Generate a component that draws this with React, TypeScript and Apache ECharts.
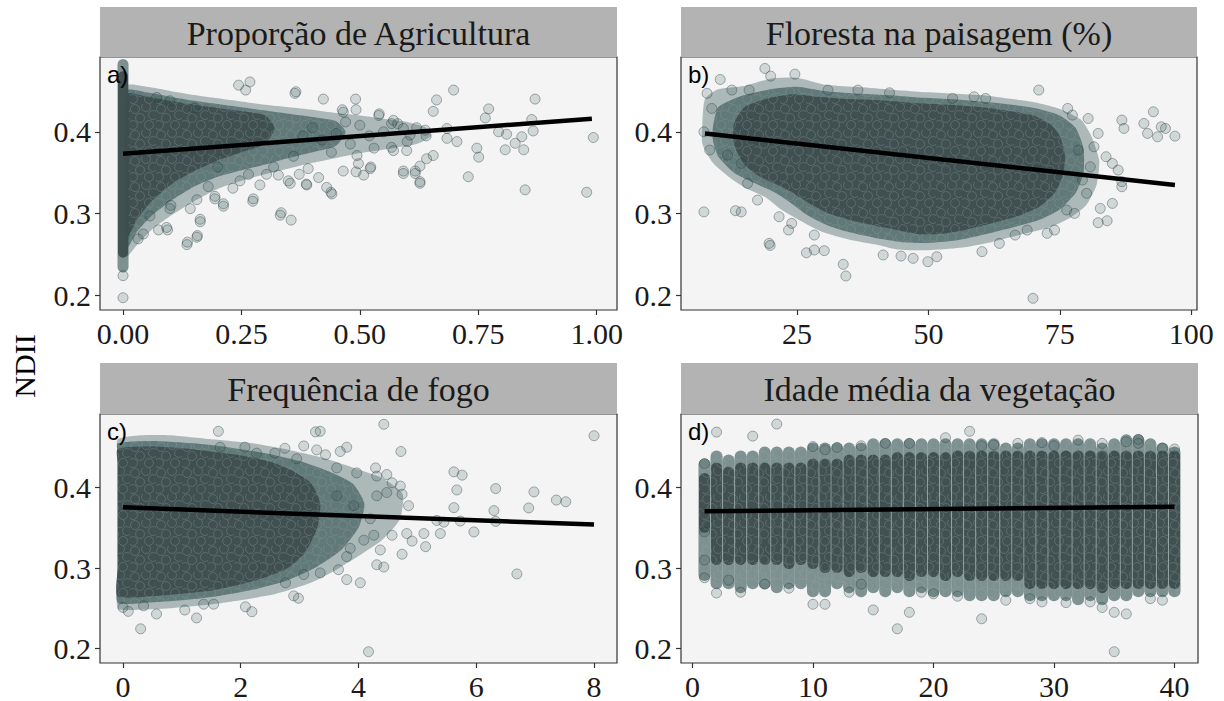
import React, { useEffect, useRef } from "react";
import * as echarts from "echarts";

// ---------- text ----------
const panelTitles = ["Proporção de Agricultura", "Floresta na paisagem (%)", "Frequência de fogo", "Idade média da vegetação"];
const panelTags = ["a)", "b)", "c)", "d)"];
const yAxisTitle = "NDII";

// ---------- scales ----------
const yTicks = [0.2, 0.3, 0.4];
const yRange = [0.182, 0.4915];
const xTicksA = [0, 0.25, 0.5, 0.75, 1];
const xTicksB = [25, 50, 75, 100];
const xTicksC = [0, 2, 4, 6, 8];
const xTicksD = [0, 10, 20, 30, 40];
const xRangeA = [-0.0486, 1.043];
const xRangeB = [2.94, 101.1];
const xRangeC = [-0.39, 8.39];
const xRangeD = [-0.95, 41.95];

// ---------- fitted lines ----------
const lineA = [[0, 0.373], [0.99, 0.416]];
const lineB = [[7.5, 0.398], [96.9, 0.335]];
const lineC = [[0, 0.3755], [8, 0.354]];
const lineD = [[1, 0.3705], [40, 0.3763]];

// ---------- panel a ----------
const aColX = [0];
const aColLoDark = [0.252];
const aColHiDark = [0.468];
const aColLoLight = [0.234];
const aColHiLight = [0.483];
const aLight = [[0.008, 0.456], [0.05, 0.455], [0.1, 0.45], [0.15, 0.445], [0.2, 0.441], [0.25, 0.437], [0.3, 0.433], [0.35, 0.43], [0.4, 0.427], [0.45, 0.423], [0.5, 0.42], [0.55, 0.416], [0.6, 0.412], [0.64, 0.405], [0.65, 0.395], [0.62, 0.385], [0.57, 0.38], [0.5, 0.374], [0.45, 0.368], [0.4, 0.362], [0.35, 0.355], [0.3, 0.348], [0.25, 0.34], [0.2, 0.33], [0.15, 0.315], [0.1, 0.297], [0.06, 0.28], [0.03, 0.262], [0.008, 0.248]];
const aMid = [[0.008, 0.45], [0.05, 0.448], [0.1, 0.443], [0.15, 0.438], [0.2, 0.434], [0.25, 0.43], [0.3, 0.426], [0.35, 0.422], [0.4, 0.418], [0.45, 0.413], [0.47, 0.4], [0.45, 0.383], [0.4, 0.375], [0.35, 0.368], [0.3, 0.36], [0.25, 0.353], [0.2, 0.345], [0.15, 0.333], [0.1, 0.315], [0.06, 0.297], [0.03, 0.278], [0.008, 0.258]];
const aDark = [[0.008, 0.446], [0.05, 0.443], [0.1, 0.438], [0.15, 0.433], [0.2, 0.429], [0.25, 0.425], [0.3, 0.42], [0.32, 0.405], [0.3, 0.385], [0.25, 0.375], [0.2, 0.365], [0.15, 0.352], [0.1, 0.335], [0.06, 0.315], [0.03, 0.293], [0.008, 0.27]];
const aPoints = [
  [0, 0.224], [0, 0.197],
  [0.244, 0.457], [0.268, 0.461], [0.259, 0.451], [0.365, 0.449], [0.423, 0.44], [0.491, 0.44], [0.492, 0.427], [0.463, 0.427], [0.541, 0.422], [0.571, 0.414], [0.071, 0.442], [0.099, 0.438], [0.151, 0.429],
  [0.101, 0.31], [0.057, 0.297], [0.075, 0.28], [0.092, 0.283], [0.043, 0.275], [0.032, 0.269], [0.136, 0.265], [0.157, 0.273], [0.163, 0.293], [0.142, 0.306], [0.156, 0.317], [0.194, 0.321], [0.212, 0.312], [0.18, 0.333], [0.232, 0.331], [0.275, 0.318], [0.289, 0.335], [0.334, 0.301], [0.355, 0.292], [0.328, 0.347], [0.349, 0.34], [0.372, 0.348], [0.387, 0.336], [0.413, 0.344], [0.43, 0.332], [0.439, 0.326], [0.391, 0.355], [0.465, 0.352], [0.492, 0.351], [0.523, 0.357], [0.494, 0.371], [0.592, 0.352], [0.617, 0.352], [0.627, 0.339], [0.627, 0.358], [0.567, 0.381], [0.599, 0.377], [0.2, 0.357], [0.247, 0.34], [0.265, 0.348], [0.303, 0.348], [0.318, 0.357],
  [0.698, 0.451], [0.662, 0.439], [0.655, 0.425], [0.772, 0.428], [0.765, 0.417], [0.87, 0.44], [0.863, 0.415], [0.866, 0.401], [0.793, 0.4], [0.81, 0.397], [0.828, 0.386], [0.842, 0.394], [0.807, 0.378], [0.846, 0.378], [0.747, 0.38], [0.751, 0.369], [0.729, 0.345], [0.849, 0.329], [0.979, 0.326], [0.993, 0.393], [0.684, 0.404], [0.684, 0.392], [0.705, 0.388], [0.655, 0.371], [0.627, 0.337], [0.617, 0.349], [0.592, 0.349], [0.641, 0.367], [0.571, 0.377], [0.567, 0.41], [0.592, 0.404], [0.638, 0.402], [0.606, 0.396], [0.54, 0.42], [0.363, 0.447], [0.465, 0.424], [0.522, 0.355], [0.497, 0.361], [0.508, 0.347], [0.441, 0.324], [0.388, 0.335], [0.353, 0.337], [0.332, 0.298], [0.274, 0.315], [0.212, 0.309], [0.194, 0.318], [0.156, 0.271], [0.135, 0.262], [0.163, 0.29], [0.099, 0.306], [0.094, 0.28],
  [0.4, 0.405], [0.42, 0.39], [0.45, 0.398], [0.48, 0.385], [0.5, 0.408], [0.52, 0.395], [0.55, 0.4], [0.58, 0.41], [0.6, 0.388], [0.62, 0.405], [0.64, 0.395], [0.47, 0.412], [0.53, 0.38], [0.44, 0.375], [0.36, 0.37], [0.38, 0.395],
];

// ---------- panel b ----------
const bLight = [[7, 0.41], [7.5, 0.44], [10, 0.452], [15, 0.456], [20, 0.465], [25, 0.466], [30, 0.458], [36, 0.455], [42, 0.452], [48, 0.449], [54, 0.447], [60, 0.445], [66, 0.44], [71, 0.435], [75, 0.428], [79, 0.415], [81, 0.395], [82.5, 0.365], [82, 0.335], [80, 0.31], [77, 0.295], [73, 0.283], [68, 0.275], [62, 0.265], [56, 0.258], [50, 0.255], [44, 0.256], [40, 0.262], [35, 0.268], [30, 0.277], [26, 0.29], [22, 0.305], [19, 0.32], [15, 0.332], [12, 0.345], [9, 0.362], [7, 0.385]];
const bMid = [[9, 0.405], [10, 0.43], [14, 0.443], [20, 0.452], [25, 0.455], [30, 0.45], [36, 0.447], [42, 0.445], [48, 0.442], [54, 0.44], [60, 0.437], [66, 0.433], [71, 0.428], [75, 0.42], [78, 0.405], [79.5, 0.38], [79.5, 0.35], [78, 0.325], [75, 0.305], [71, 0.292], [66, 0.283], [61, 0.275], [56, 0.268], [50, 0.264], [45, 0.265], [40, 0.27], [35, 0.277], [31, 0.285], [27, 0.298], [24, 0.312], [21, 0.325], [17, 0.337], [13, 0.35], [10, 0.37], [9, 0.39]];
const bDark = [[13, 0.41], [15, 0.43], [19, 0.44], [24, 0.446], [29, 0.443], [35, 0.44], [42, 0.438], [48, 0.435], [54, 0.433], [60, 0.43], [66, 0.425], [70, 0.42], [73, 0.41], [75, 0.395], [76, 0.37], [75.5, 0.345], [74, 0.325], [71, 0.308], [67, 0.297], [62, 0.288], [57, 0.28], [52, 0.275], [48, 0.275], [44, 0.28], [40, 0.285], [35, 0.292], [31, 0.3], [28, 0.31], [25, 0.322], [22, 0.333], [18, 0.345], [15, 0.36], [13, 0.385]];
const bPoints = [
  [7.3, 0.302], [13.3, 0.3035], [14.4, 0.302], [19.7, 0.2635], [19.9, 0.261], [26.8, 0.252], [28.3, 0.2554], [30.2, 0.2546], [33.8, 0.2379], [34.3, 0.2236], [41.4, 0.2493], [44.8, 0.248], [47.1, 0.2452], [49.9, 0.2411], [51.6, 0.2472], [60.2, 0.2534], [69.9, 0.1963], [71.0, 0.451],
  [18.9, 0.4775], [20.0, 0.4681], [24.6, 0.4705], [10.4, 0.464], [7.9, 0.447], [8.8, 0.4286], [7.3, 0.4], [8.4, 0.3776], [11.8, 0.3715], [14.4, 0.3613], [15.6, 0.3369], [17.5, 0.3165], [21.6, 0.2961], [23.4, 0.2798], [24.0, 0.288], [28.3, 0.2737],
  [77.4, 0.4204], [80.4, 0.4163], [86.8, 0.4143], [87.2, 0.4041], [91.0, 0.4102], [92.8, 0.4245], [93.6, 0.3939], [95.1, 0.4041], [96.9, 0.3947], [91.7, 0.398], [94.3, 0.4061], [82.3, 0.398], [81.5, 0.3817], [83.8, 0.3695], [85.0, 0.3613], [86.1, 0.3532], [86.8, 0.339], [86.8, 0.3328], [85.0, 0.3124], [82.7, 0.3063], [82.3, 0.2888], [84.0, 0.2912], [77.8, 0.3002], [76.3, 0.3043], [74.0, 0.2798], [72.6, 0.2758], [68.8, 0.2798], [66.5, 0.2737], [63.5, 0.2635], [79.3, 0.341], [80.1, 0.3247], [80.8, 0.3572], [78.5, 0.3776], [76.5, 0.4286],
  [58.7, 0.4428], [60.9, 0.4408], [54.6, 0.4408], [36.6, 0.451], [30.9, 0.451], [42.6, 0.4477], [15.9, 0.451], [12.6, 0.451],
];

// ---------- panel c ----------
const cLight = [[-0.09, 0.46], [0.3, 0.465], [0.8, 0.465], [1.5, 0.46], [2.2, 0.455], [2.8, 0.447], [3.4, 0.437], [3.9, 0.425], [4.4, 0.412], [4.75, 0.392], [4.7, 0.36], [4.4, 0.335], [4.0, 0.315], [3.6, 0.297], [3.2, 0.282], [2.6, 0.268], [2.0, 0.26], [1.4, 0.254], [0.8, 0.25], [0.2, 0.248], [-0.09, 0.25], [-0.09, 0.3], [-0.09, 0.35], [-0.09, 0.4], [-0.09, 0.44]];
const cMid = [[-0.09, 0.455], [0.5, 0.458], [1.2, 0.455], [1.8, 0.45], [2.4, 0.443], [3.0, 0.433], [3.5, 0.42], [3.9, 0.405], [4.1, 0.38], [4.0, 0.35], [3.7, 0.322], [3.3, 0.302], [2.8, 0.285], [2.2, 0.273], [1.6, 0.265], [1.0, 0.26], [0.4, 0.257], [-0.09, 0.257], [-0.09, 0.3], [-0.09, 0.35], [-0.09, 0.4], [-0.09, 0.44]];
const cDark = [[-0.09, 0.448], [0.5, 0.451], [1.0, 0.449], [1.5, 0.445], [2.0, 0.44], [2.5, 0.432], [2.9, 0.42], [3.2, 0.405], [3.35, 0.38], [3.3, 0.35], [3.1, 0.32], [2.8, 0.3], [2.4, 0.288], [2.0, 0.28], [1.5, 0.272], [1.0, 0.268], [0.5, 0.265], [-0.09, 0.265], [-0.09, 0.3], [-0.09, 0.35], [-0.09, 0.4], [-0.09, 0.43]];
const cPoints = [
  [1.62, 0.47], [4.43, 0.4787], [8.0, 0.4645], [3.27, 0.4693], [3.35, 0.47], [1.65, 0.4502], [2.07, 0.4502], [2.27, 0.4428], [2.58, 0.4428], [2.75, 0.4489], [3.07, 0.4518], [3.29, 0.4469], [3.44, 0.4408], [3.69, 0.4449], [3.8, 0.4502], [2.95, 0.4359], [4.72, 0.4449],
  [3.63, 0.4245], [3.97, 0.4183], [4.29, 0.4245], [4.48, 0.4163], [4.31, 0.4143], [4.57, 0.406], [4.71, 0.402], [4.74, 0.3918], [4.48, 0.3939], [5.62, 0.4196], [5.76, 0.4155], [5.67, 0.3971], [5.62, 0.3751], [5.73, 0.3584], [5.39, 0.3429], [5.11, 0.3429], [5.14, 0.3266], [4.91, 0.3335], [4.82, 0.3429], [4.57, 0.3408], [4.74, 0.3172], [4.37, 0.3225], [4.31, 0.3041], [4.43, 0.3013], [4.03, 0.2817], [3.8, 0.2857], [3.8, 0.3143], [3.66, 0.298], [3.07, 0.2919], [3.35, 0.294], [2.9, 0.2654], [2.98, 0.2625], [2.76, 0.2817],
  [2.19, 0.2458], [2.08, 0.2519], [1.54, 0.2551], [1.25, 0.238], [1.05, 0.2478], [0.57, 0.2429], [0.35, 0.2531], [0.3, 0.2245], [0.0, 0.2511], [0.09, 0.2462], [1.37, 0.2551], [4.17, 0.196],
  [6.33, 0.3988], [6.3, 0.3714], [6.33, 0.358], [5.96, 0.3449], [6.98, 0.3947], [6.89, 0.3747], [7.36, 0.3845], [7.52, 0.3824], [6.69, 0.2927], [5.45, 0.3571], [5.33, 0.3592], [4.31, 0.3898], [4.2, 0.3612], [4.09, 0.3347], [3.86, 0.3245], [4.26, 0.3408], [3.63, 0.3898], [3.92, 0.3775], [4.85, 0.3775],
];

// ---------- panel d ----------
const dAges = [1, 2, 3, 4, 5, 6, 7, 8, 9, 10, 11, 12, 13, 14, 15, 16, 17, 18, 19, 20, 21, 22, 23, 24, 25, 26, 27, 28, 29, 30, 31, 32, 33, 34, 35, 36, 37, 38, 39, 40];
const dHiDark = [0.412, 0.425, 0.42, 0.425, 0.425, 0.425, 0.425, 0.425, 0.425, 0.43, 0.43, 0.43, 0.435, 0.435, 0.435, 0.435, 0.438, 0.438, 0.438, 0.438, 0.438, 0.44, 0.44, 0.44, 0.44, 0.44, 0.44, 0.44, 0.44, 0.44, 0.44, 0.44, 0.44, 0.44, 0.44, 0.44, 0.44, 0.44, 0.44, 0.44];
const dLoDark = [0.35, 0.31, 0.31, 0.31, 0.31, 0.31, 0.31, 0.305, 0.31, 0.305, 0.3, 0.3, 0.295, 0.3, 0.295, 0.295, 0.295, 0.29, 0.295, 0.295, 0.29, 0.295, 0.29, 0.29, 0.29, 0.29, 0.29, 0.28, 0.28, 0.28, 0.28, 0.28, 0.28, 0.275, 0.28, 0.28, 0.28, 0.28, 0.28, 0.28];
const dHiLight = [0.43, 0.44, 0.435, 0.44, 0.44, 0.445, 0.445, 0.445, 0.445, 0.45, 0.45, 0.45, 0.45, 0.45, 0.455, 0.455, 0.455, 0.455, 0.455, 0.455, 0.455, 0.455, 0.455, 0.455, 0.455, 0.45, 0.45, 0.455, 0.455, 0.455, 0.455, 0.455, 0.455, 0.45, 0.455, 0.46, 0.46, 0.455, 0.45, 0.445];
const dLoLight = [0.29, 0.28, 0.28, 0.275, 0.28, 0.28, 0.275, 0.28, 0.28, 0.27, 0.27, 0.28, 0.275, 0.27, 0.275, 0.27, 0.275, 0.27, 0.275, 0.27, 0.27, 0.27, 0.265, 0.265, 0.265, 0.27, 0.27, 0.265, 0.265, 0.265, 0.265, 0.26, 0.265, 0.26, 0.265, 0.265, 0.27, 0.27, 0.27, 0.27];
const dPoints = [
  [7, 0.479], [5, 0.464], [2, 0.469], [23, 0.47], [2, 0.269], [17, 0.2245], [24, 0.237], [35, 0.196], [15, 0.248], [18, 0.245], [10, 0.255], [11, 0.255], [34, 0.251], [35, 0.245], [36, 0.243], [31, 0.257], [32, 0.459], [36, 0.457], [37, 0.46], [37, 0.455], [39, 0.449], [10, 0.451], [11, 0.447], [25, 0.453], [21, 0.462],
  [1, 0.31], [1, 0.288], [1, 0.345], [1, 0.43], [3, 0.285], [4, 0.27], [6, 0.28], [8, 0.275], [13, 0.27], [14, 0.28], [19, 0.27], [20, 0.268], [22, 0.265], [26, 0.26], [28, 0.262], [29, 0.258], [33, 0.258], [38, 0.262], [39, 0.26], [12, 0.45], [14, 0.452], [16, 0.455], [18, 0.455], [24, 0.452], [27, 0.455], [29, 0.456], [30, 0.452], [34, 0.455], [40, 0.448],
];

// ---------- layout / style ----------
const SERIF = "Liberation Serif";
const SANS = "Liberation Sans";
const DARK = "rgba(62,78,78,0.96)";
const MID = "rgba(47,79,79,0.6)";
const LIGHT = "rgba(47,79,79,0.36)";
const PT_FILL = "rgba(47,79,79,0.22)";
const PT_BORDER = "rgba(40,60,60,0.5)";
const TILE_SVG =
  "<svg xmlns='http://www.w3.org/2000/svg' width='26' height='26'>" +
  "<g fill='none' stroke='rgba(150,165,165,0.32)' stroke-width='0.9'>" +
  "<circle cx='5' cy='5' r='4.5'/><circle cx='16' cy='3' r='4.5'/><circle cx='23' cy='11' r='4.5'/>" +
  "<circle cx='10' cy='14' r='4.5'/><circle cx='19' cy='21' r='4.5'/><circle cx='3' cy='21' r='4.5'/>" +
  "</g></svg>";
const TEXTURE = {
  image: "data:image/svg+xml;charset=utf-8," + encodeURIComponent(TILE_SVG),
  repeat: "repeat",
  imageWidth: 26,
  imageHeight: 26,
};
const grids = [
  { left: 100, top: 57, width: 517, height: 253 },
  { left: 681, top: 57, width: 516, height: 253 },
  { left: 100, top: 414, width: 517, height: 252 },
  { left: 681, top: 414, width: 517, height: 252 },
];
const strips = [
  { y: 7, h: 50 },
  { y: 7, h: 50 },
  { y: 363, h: 51 },
  { y: 363, h: 51 },
];

function polygonSeries(idx: number, poly: number[][], color: any, z: number) {
  return {
    type: "custom",
    xAxisIndex: idx,
    yAxisIndex: idx,
    z,
    silent: true,
    clip: true,
    data: [poly[0]],
    renderItem: (_p: any, api: any) => ({
      type: "polygon",
      shape: { points: poly.map((pt) => api.coord(pt)), smooth: 0.2 },
      style: { fill: color },
    }),
  };
}

function columnSeries(idx: number, xs: number[], lo: number[], hi: number[], color: any, w: number, z: number) {
  return {
    type: "custom",
    xAxisIndex: idx,
    yAxisIndex: idx,
    z,
    silent: true,
    data: xs.map((x, i) => [x, lo[i], hi[i]]),
    encode: { x: 0, y: [1, 2] },
    renderItem: (_p: any, api: any) => {
      const x = api.value(0);
      const top = api.coord([x, api.value(2)]);
      const bot = api.coord([x, api.value(1)]);
      return {
        type: "rect",
        shape: { x: top[0] - w / 2, y: top[1] - 5, width: w, height: bot[1] - top[1] + 10, r: w / 2 },
        style: { fill: color },
      };
    },
  };
}

function pointSeries(idx: number, pts: number[][]) {
  return {
    type: "scatter",
    xAxisIndex: idx,
    yAxisIndex: idx,
    z: 5,
    symbol: "circle",
    symbolSize: 10,
    silent: true,
    data: pts,
    itemStyle: { color: PT_FILL, borderColor: PT_BORDER, borderWidth: 1 },
  };
}

function lineSeries(idx: number, pts: number[][]) {
  return {
    type: "line",
    xAxisIndex: idx,
    yAxisIndex: idx,
    z: 10,
    silent: true,
    symbol: "none",
    data: pts,
    lineStyle: { color: "#000", width: 4.5 },
  };
}

export default function App() {
  const ref = useRef<HTMLDivElement>(null);
  useEffect(() => {
    document.body.style.margin = "0";
    if (!ref.current) return;
    const chart = echarts.init(ref.current, null, { renderer: "svg" });
    const xTicks = [xTicksA, xTicksB, xTicksC, xTicksD];
    const xRanges = [xRangeA, xRangeB, xRangeC, xRangeD];
    const xFormat = [(v: number) => v.toFixed(2), (v: number) => String(v), (v: number) => String(v), (v: number) => String(v)];

    const graphics: any[] = [];
    grids.forEach((g, i) => {
      graphics.push({
        type: "rect",
        shape: { x: g.left, y: strips[i].y, width: g.width, height: strips[i].h },
        style: { fill: "#b3b3b3" },
        z: 0,
      });
      graphics.push({
        type: "text",
        x: g.left + g.width / 2,
        y: strips[i].y + strips[i].h / 2 + 1,
        style: { text: panelTitles[i], fontFamily: SERIF, fontSize: 34, fill: "#1a1a1a", textAlign: "center", textVerticalAlign: "middle" },
        z: 1,
      });
      graphics.push({
        type: "text",
        x: g.left + 7,
        y: g.top + 5,
        style: { text: panelTags[i], fontFamily: SANS, fontSize: 24, fill: "#000", textAlign: "left", textVerticalAlign: "top" },
        z: 100,
      });
    });
    graphics.push({
      type: "text",
      x: 24,
      y: 366,
      rotation: Math.PI / 2,
      style: { text: yAxisTitle, fontFamily: SERIF, fontSize: 30, fill: "#000", textAlign: "center", textVerticalAlign: "middle" },
    });

    const series: any[] = [
      polygonSeries(0, aLight, LIGHT, 1),
      polygonSeries(0, aMid, MID, 2),
      polygonSeries(0, aDark, DARK, 3),
      polygonSeries(0, aMid, TEXTURE, 3),
      columnSeries(0, aColX, aColLoLight, aColHiLight, MID, 11, 3),
      columnSeries(0, aColX, aColLoDark, aColHiDark, DARK, 10, 4),
      pointSeries(0, aPoints),
      lineSeries(0, lineA),
      polygonSeries(1, bLight, LIGHT, 1),
      polygonSeries(1, bMid, MID, 2),
      polygonSeries(1, bDark, DARK, 3),
      polygonSeries(1, bMid, TEXTURE, 3),
      pointSeries(1, bPoints),
      lineSeries(1, lineB),
      polygonSeries(2, cLight, LIGHT, 1),
      polygonSeries(2, cMid, MID, 2),
      polygonSeries(2, cDark, DARK, 3),
      polygonSeries(2, cMid, TEXTURE, 3),
      pointSeries(2, cPoints),
      lineSeries(2, lineC),
      columnSeries(3, dAges, dLoLight, dHiLight, MID, 12, 3),
      columnSeries(3, dAges, dLoDark, dHiDark, DARK, 11, 4),
      columnSeries(3, dAges, dLoLight, dHiLight, TEXTURE, 12, 4),
      pointSeries(3, dPoints),
      lineSeries(3, lineD),
    ];

    chart.setOption({
      animation: false,
      backgroundColor: "#ffffff",
      grid: grids.map((g) => ({ ...g, show: true, backgroundColor: "#f4f4f4", borderColor: "#333333", borderWidth: 1.2 })),
      xAxis: grids.map((_g, i) => ({
        type: "value",
        gridIndex: i,
        min: xRanges[i][0],
        max: xRanges[i][1],
        axisLine: { show: false, onZero: false },
        splitLine: { show: false },
        axisTick: { show: true, customValues: xTicks[i], length: 5, lineStyle: { color: "#333333", width: 1.2 } },
        axisLabel: { customValues: xTicks[i], formatter: xFormat[i], fontFamily: SERIF, fontSize: 30, color: "#1a1a1a", margin: 8 },
      })),
      yAxis: grids.map((_g, i) => ({
        type: "value",
        gridIndex: i,
        min: yRange[0],
        max: yRange[1],
        axisLine: { show: false, onZero: false },
        splitLine: { show: false },
        axisTick: { show: true, customValues: yTicks, length: 5, lineStyle: { color: "#333333", width: 1.2 } },
        axisLabel: { customValues: yTicks, formatter: (v: number) => v.toFixed(1), fontFamily: SERIF, fontSize: 30, color: "#1a1a1a", margin: 9 },
      })),
      graphic: graphics,
      series,
    });
    return () => chart.dispose();
  }, []);
  return <div ref={ref} style={{ width: 1224, height: 701 }} />;
}
